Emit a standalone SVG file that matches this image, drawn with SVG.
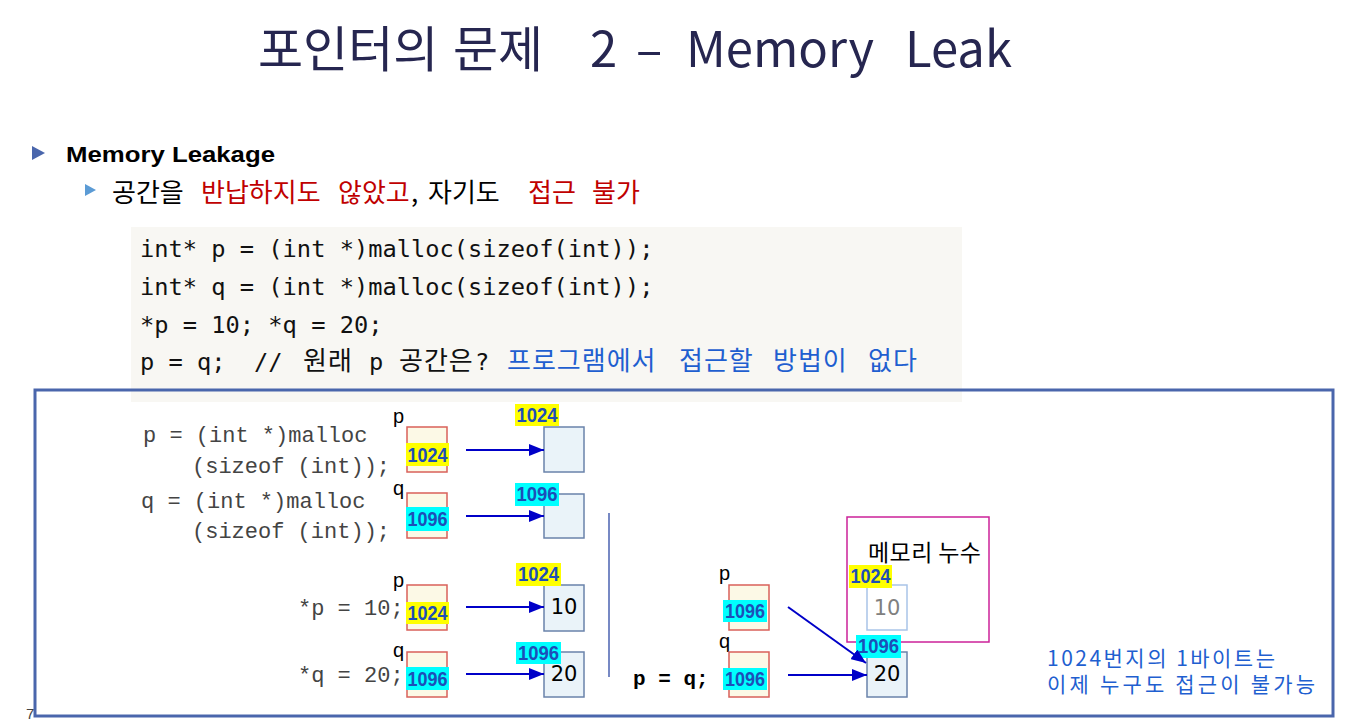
<svg xmlns="http://www.w3.org/2000/svg" width="1345" height="724" viewBox="0 0 1345 724">
<style>
.kr{font-family:"Noto Sans CJK KR","Noto Sans",sans-serif}
.code{font-family:"DejaVu Sans Mono","Noto Sans CJK KR",monospace;font-size:23.7px;fill:#111}
.ckr{font-family:"Noto Sans CJK KR",sans-serif;font-size:26px;letter-spacing:1px}
.cour{font-family:"Liberation Mono","Noto Sans CJK KR",monospace;font-size:22px;fill:#444}
.lbl{font-family:"Liberation Sans",Arial,sans-serif;font-size:20px;fill:#000}
.addr{font-family:"Liberation Sans",Arial,sans-serif;font-weight:bold;font-size:21px;fill:#1D4FB8;text-anchor:middle}
.ptr{fill:#FCF9E6;stroke:#D9605A;stroke-width:1.5}
.mem{fill:#EAF3F9;stroke:#6A83AA;stroke-width:1.5}
.val{font-family:"DejaVu Sans",Verdana,sans-serif;font-size:21px;text-anchor:middle;fill:#000}
.yl{fill:#FFFF00}
.cy{fill:#00FFFF}
.arrow{stroke:#0000C8;stroke-width:2;fill:none;marker-end:url(#ah)}
.red{fill:#C00000}
.blue{fill:#1F5FD0}
</style>
<defs>
<marker id="ah" markerUnits="userSpaceOnUse" markerWidth="16" markerHeight="12" refX="15" refY="6" orient="auto">
<path d="M0,0 L15,6 L0,12 z" fill="#0000C8"/>
</marker>
</defs>
<rect width="1345" height="724" fill="#FFFFFF"/>

<g id="title">
<text class="kr" y="67" font-size="49" fill="#262650"><tspan x="258">포인터의</tspan><tspan x="453">문제</tspan><tspan x="590">2</tspan><tspan x="636">–</tspan><tspan x="686">Memory</tspan><tspan x="905">Leak</tspan></text>
</g>

<g id="bullet1">
<polygon points="32,146 45,153 32,160" fill="#4A66AC"/>
<text x="66" y="162" font-family="'Liberation Sans',Arial,sans-serif" font-weight="bold" font-size="22" fill="#000" textLength="209" lengthAdjust="spacingAndGlyphs">Memory Leakage</text>
</g>
<g id="bullet2">
<polygon points="85,184 96,190 85,196" fill="#5B9BD5"/>
<text class="kr" y="202" font-size="26" fill="#000"><tspan x="112">공간을</tspan><tspan x="201" class="red">반납하지도</tspan><tspan x="338" class="red">않았고</tspan><tspan x="411">,</tspan><tspan x="428">자기도</tspan><tspan x="528" class="red">접근</tspan><tspan x="592" class="red">불가</tspan></text>
</g>

<g id="codeblock">
<rect x="131" y="227" width="831" height="175" fill="#F8F7F3"/>
<text class="code" x="140" y="257">int* p = (int *)malloc(sizeof(int));</text>
<text class="code" x="140" y="295">int* q = (int *)malloc(sizeof(int));</text>
<text class="code" x="140" y="333">*p = 10; *q = 20;</text>
<text class="code" y="370"><tspan x="140">p = q;</tspan><tspan x="254">//</tspan><tspan x="303" class="ckr">원래</tspan><tspan x="369">p</tspan><tspan x="399" class="ckr">공간은</tspan><tspan x="475">?</tspan><tspan x="507" class="ckr blue">프로그램에서</tspan><tspan x="679" class="ckr blue">접근할</tspan><tspan x="773" class="ckr blue">방법이</tspan><tspan x="868" class="ckr blue">없다</tspan></text>
</g>

<rect id="frame" x="35" y="390" width="1298" height="326" fill="none" stroke="#4A66AC" stroke-width="3"/>
<text x="26" y="719" font-family="'Liberation Sans',Arial,sans-serif" font-size="15" fill="#444">7</text>

<g id="code-left">
<text class="cour" x="143" y="442">p = (int *)malloc</text>
<text class="cour" x="192" y="473">(sizeof (int));</text>
<text class="cour" x="141" y="508">q = (int *)malloc</text>
<text class="cour" x="192" y="538">(sizeof (int));</text>
<text class="cour" x="298" y="615">*p = 10;</text>
<text class="cour" x="298" y="682">*q = 20;</text>
<text x="633" y="685" font-family="'Liberation Mono',monospace" font-weight="bold" font-size="21" fill="#000">p = q;</text>
</g>

<line id="separator" x1="609" y1="513" x2="609" y2="677" stroke="#4A62B0" stroke-width="1.5"/>

<g id="row1-p">
<text class="lbl" x="393" y="423">p</text>
<rect class="ptr" x="407" y="427" width="40" height="45"/>
<rect class="yl" x="406" y="443" width="43" height="23"/>
<text class="addr" x="427.5" y="462" textLength="40" lengthAdjust="spacingAndGlyphs">1024</text>
</g>
<g id="row1-mem">
<rect class="mem" x="544" y="427" width="40" height="45"/>
<rect class="yl" x="515" y="404" width="44" height="22"/>
<text class="addr" x="537" y="422" textLength="41" lengthAdjust="spacingAndGlyphs">1024</text>
</g>

<g id="row2-q">
<text class="lbl" x="393" y="495">q</text>
<rect class="ptr" x="407" y="493" width="40" height="45"/>
<rect class="cy" x="406" y="507" width="43" height="24"/>
<text class="addr" x="427.5" y="526" textLength="40" lengthAdjust="spacingAndGlyphs">1096</text>
</g>
<g id="row2-mem">
<rect class="mem" x="544" y="494" width="40" height="44"/>
<rect class="cy" x="515" y="483" width="44" height="23"/>
<text class="addr" x="537" y="501" textLength="41" lengthAdjust="spacingAndGlyphs">1096</text>
</g>

<g id="row3-p">
<text class="lbl" x="393" y="587">p</text>
<rect class="ptr" x="407" y="585" width="40" height="45"/>
<rect class="yl" x="406" y="602" width="43" height="22"/>
<text class="addr" x="427.5" y="620" textLength="40" lengthAdjust="spacingAndGlyphs">1024</text>
</g>
<g id="row3-mem">
<rect class="mem" x="544" y="585" width="40" height="46"/>
<text class="val" x="564" y="614">10</text>
<rect class="yl" x="516" y="563" width="45" height="23"/>
<text class="addr" x="538.5" y="581" textLength="41" lengthAdjust="spacingAndGlyphs">1024</text>
</g>

<g id="row4-q">
<text class="lbl" x="393" y="657">q</text>
<rect class="ptr" x="407" y="652" width="40" height="45"/>
<rect class="cy" x="406" y="667" width="43" height="23"/>
<text class="addr" x="427.5" y="686" textLength="40" lengthAdjust="spacingAndGlyphs">1096</text>
</g>
<g id="row4-mem">
<rect class="mem" x="544" y="652" width="40" height="45"/>
<text class="val" x="564" y="681">20</text>
<rect class="cy" x="516" y="642" width="45" height="22"/>
<text class="addr" x="538.5" y="660" textLength="41" lengthAdjust="spacingAndGlyphs">1096</text>
</g>

<g id="right-p">
<text class="lbl" x="719" y="580">p</text>
<rect class="ptr" x="729" y="585" width="40" height="45"/>
<rect class="cy" x="723" y="600" width="44" height="22"/>
<text class="addr" x="745" y="618" textLength="40" lengthAdjust="spacingAndGlyphs">1096</text>
</g>
<g id="right-q">
<text class="lbl" x="719" y="648">q</text>
<rect class="ptr" x="729" y="652" width="40" height="45"/>
<rect class="cy" x="723" y="668" width="44" height="22"/>
<text class="addr" x="745" y="686" textLength="40" lengthAdjust="spacingAndGlyphs">1096</text>
</g>

<g id="leak">
<rect x="847" y="517" width="142" height="125" fill="none" stroke="#CC2299" stroke-width="1.5"/>
<text class="kr" x="868" y="561" font-size="23" fill="#000" textLength="113" lengthAdjust="spacing">메모리 누수</text>
<rect x="867" y="585" width="40" height="45" fill="#FFFFFF" stroke="#A9C4E8" stroke-width="1.5"/>
<text class="val" x="887" y="615" style="fill:#808080">10</text>
<rect class="yl" x="849" y="565" width="43" height="23"/>
<text class="addr" x="870.5" y="583" textLength="40" lengthAdjust="spacingAndGlyphs">1024</text>
</g>

<g id="right-mem">
<rect class="mem" x="867" y="652" width="40" height="45"/>
<text class="val" x="887" y="681">20</text>
<rect class="cy" x="856" y="635" width="45" height="23"/>
<text class="addr" x="878.5" y="653" textLength="41" lengthAdjust="spacingAndGlyphs">1096</text>
</g>

<g id="note">
<text class="kr blue" x="1047" y="666" font-size="21" textLength="228" lengthAdjust="spacing">1024번지의 1바이트는</text>
<text class="kr blue" x="1047" y="692" font-size="21" textLength="268" lengthAdjust="spacing">이제 누구도 접근이 불가능</text>
</g>

<g id="connectors">
<line class="arrow" x1="466" y1="450" x2="544" y2="450"/>
<line class="arrow" x1="466" y1="516" x2="544" y2="516"/>
<line class="arrow" x1="466" y1="607" x2="544" y2="607"/>
<line class="arrow" x1="466" y1="674" x2="544" y2="674"/>
<line class="arrow" x1="788" y1="675" x2="867" y2="675"/>
<line class="arrow" x1="788" y1="607" x2="866" y2="663"/>
</g>
</svg>
